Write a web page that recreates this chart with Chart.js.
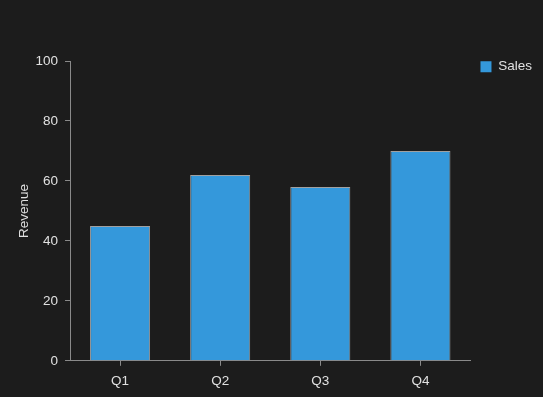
<!DOCTYPE html>
<html>
<head>
<meta charset="utf-8">
<script src="https://cdn.jsdelivr.net/npm/chart.js@4/dist/chart.umd.min.js"></script>
<style>
html,body{margin:0;padding:0;background:#1c1c1c;}
#wrap{width:543px;height:397px;position:relative;}
</style>
</head>
<body>
<div id="wrap"><canvas id="c"></canvas></div>
<script>
const categories = ['Q1', 'Q2', 'Q3', 'Q4'];
const salesValues = [45, 62, 58, 70];
const yTicks = [0, 20, 40, 60, 80, 100];

const axisColor = '#8a8a8a';
const textColor = '#e0e0e0';
const font = {family: 'Liberation Sans, Arial, sans-serif', size: 13.5};

new Chart(document.getElementById('c'), {
  type: 'bar',
  data: {
    labels: categories,
    datasets: [{
      label: 'Sales',
      data: salesValues,
      backgroundColor: '#3498db',
      borderColor: '#a0a0a0',
      borderWidth: 1,
      categoryPercentage: 1.0,
      barPercentage: 0.6
    }]
  },
  options: {
    responsive: true,
    maintainAspectRatio: false,
    animation: false,
    layout: {padding: {top: 61, right: 1, bottom: 1, left: 12}},
    plugins: {
      legend: {
        position: 'right',
        align: 'start',
        labels: {
          color: textColor, font: font, boxWidth: 11, boxHeight: 11, padding: 10,
          generateLabels: (chart) => Chart.defaults.plugins.legend.labels.generateLabels(chart).map(l => Object.assign(l, {lineWidth: 0}))
        }
      },
      tooltip: {enabled: false}
    },
    scales: {
      x: {
        offset: true,
        grid: {display: true, drawOnChartArea: false, drawTicks: true, tickLength: 5, color: axisColor, offset: false},
        border: {display: true, color: axisColor},
        ticks: {color: textColor, font: font, padding: 7}
      },
      y: {
        min: 0, max: 100,
        afterBuildTicks: (s) => { s.ticks = yTicks.map(v => ({value: v})); },
        grid: {display: true, drawOnChartArea: false, drawTicks: true, tickLength: 5, color: axisColor},
        border: {display: true, color: axisColor},
        ticks: {color: textColor, font: font, padding: 7},
        title: {display: true, text: 'Revenue', color: textColor, font: Object.assign({}, font, {lineHeight: 1.0}), padding: {top: 6, bottom: -3}}
      }
    }
  },
  plugins: [{
    id: 'bg',
    beforeDraw(chart) {
      const ctx = chart.ctx;
      ctx.save();
      ctx.fillStyle = '#1c1c1c';
      ctx.fillRect(0, 0, chart.width, chart.height);
      ctx.restore();
    },
    afterLayout(chart) {
      if (chart.legend) { chart.legend.top -= 11; chart.legend.bottom -= 11; }
    }
  }]
});
</script>
</body>
</html>
